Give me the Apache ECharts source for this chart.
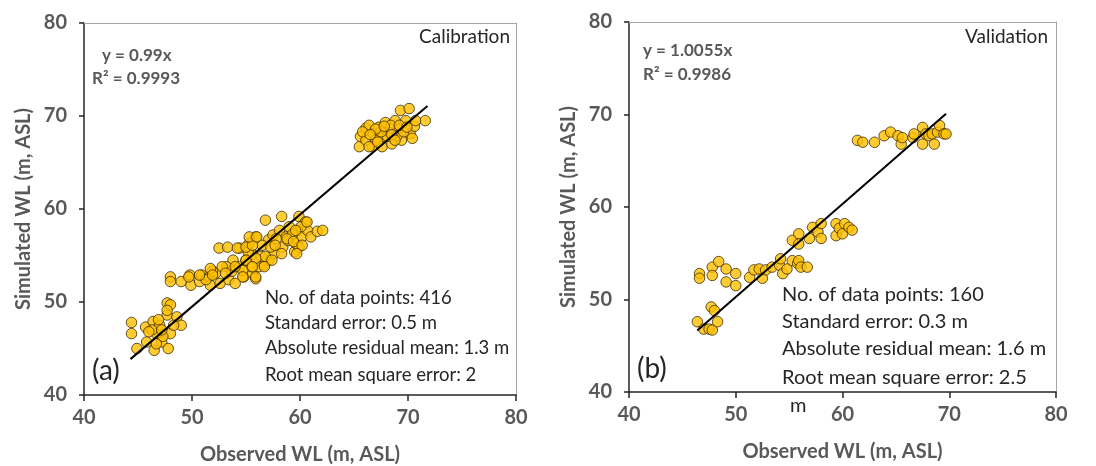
<!DOCTYPE html>
<html><head><meta charset="utf-8">
<script src="https://cdn.jsdelivr.net/npm/echarts@6/dist/echarts.min.js"></script>
<style>html,body{margin:0;padding:0;background:#fff}#c{width:1096px;height:466px}</style>
</head><body><div id="c"></div>
<script>
// Calibration observed / simulated
const calX = [44.4,44.4,44.9,45.7,45.8,46.4,46.5,46.7,47.0,47.2,47.7,47.7,48.0,47.8,48.0,48.6,49.0,47.3,46.9,46.3,48.3,47.7,46.0,47.2,46.7,
  48.0,48.0,49.0,49.8,49.9,50.7,50.9,51.6,51.7,52.2,52.5,53.3,52.6,53.4,53.7,54.0,54.4,54.8,55.0,55.6,55.6,55.9,56.2,56.7,56.8,57.1,57.1,57.5,57.6,58.1,58.3,58.4,58.7,59.0,59.5,59.6,59.8,59.9,60.2,60.5,60.7,61.0,61.6,62.1,
  54.4,55.2,55.3,55.9,56.5,56.4,55.5,53.8,53.2,51.9,51.3,54.7,57.3,57.8,58.9,59.3,59.9,60.1,
  54.2,55.0,55.6,55.3,56.0,58.8,59.6,59.4,60.2,59.7,60.65,56.8,55.9,55.0,54.0,52.8,51.7,50.7,49.7,51.9,53.1,54.7,55.9,56.7,57.4,58.3,55.6,57.7,
  65.5,65.6,66.1,66.4,66.7,66.8,67.3,67.6,67.6,67.9,68.2,68.5,68.8,69.1,69.3,69.4,69.8,70.1,70.2,70.4,70.6,71.6,66.1,67.0,68.4,69.0,65.8,68.1,69.6,70.7,67.5,66.4,
  67.0,67.8,68.5,69.2,69.9,66.5,67.2,68.8];
const calY = [47.8,46.6,45.0,47.3,45.7,47.9,44.8,46.6,47.5,45.7,48.6,49.9,49.7,45.0,46.6,48.4,47.5,46.3,48.1,47.0,47.5,49.1,46.8,47.0,45.5,
  52.7,52.2,52.2,52.9,51.8,52.2,52.9,52.7,51.8,53.1,55.8,55.9,52.0,52.4,53.3,52.0,53.8,52.7,54.5,55.1,53.1,52.5,53.8,54.0,58.8,56.7,54.5,57.2,55.2,57.7,59.2,55.9,57.0,58.1,55.4,56.3,57.7,59.2,57.0,58.6,57.7,57.0,57.6,57.7,
  55.8,55.4,56.3,57.0,56.1,54.9,53.8,54.5,53.8,53.3,52.4,53.4,55.9,56.8,56.6,57.3,55.9,58.1,
  55.8,55.9,56.1,57.0,57.0,56.8,57.7,56.5,56.1,55.2,58.6,54.9,54.7,54.5,53.8,53.8,53.6,52.9,52.7,52.9,53.1,52.7,52.7,53.8,54.5,55.2,53.8,56.1,
  66.7,67.8,68.7,69.0,66.7,68.1,68.8,67.6,66.7,69.3,68.3,67.0,69.5,68.6,70.6,67.4,69.5,70.8,68.1,67.6,68.9,69.5,67.4,67.4,69.0,67.9,68.3,67.8,68.3,69.5,68.3,66.7,
  68.6,68.9,68.0,69.0,68.8,68.0,67.2,67.4];
// Validation observed / simulated
const valX = [46.4,46.6,46.6,47.0,47.5,47.7,47.8,47.8,47.8,48.0,48.3,48.4,49.1,49.1,50.0,50.0,51.3,51.7,52.2,52.5,52.8,53.4,54.1,54.2,54.4,54.8,55.3,55.8,55.9,56.1,56.7,
  55.3,55.9,55.9,56.9,57.2,57.7,58.0,58.0,59.4,59.4,59.7,60.0,60.2,60.6,60.9,
  61.4,61.9,63.0,63.9,64.5,65.2,65.5,65.6,66.6,66.7,67.5,67.5,67.8,68.1,68.4,68.6,68.9,69.1,69.5,69.7];
const valY = [47.6,52.8,52.3,46.8,46.8,49.2,53.5,52.6,46.7,48.8,47.6,54.1,53.3,51.9,52.8,51.5,52.4,53.2,53.3,52.3,53.2,53.5,53.7,54.4,52.8,53.3,54.2,53.9,54.2,53.5,53.5,
  56.4,57.1,56.0,56.6,57.8,57.3,56.6,58.2,58.2,56.9,57.7,57.1,58.2,57.8,57.5,
  67.2,67.0,67.0,67.7,68.1,67.7,66.8,67.5,67.5,67.9,68.6,66.8,67.9,67.7,67.9,66.8,68.1,68.8,67.9,67.9];
// Trendlines (y = slope * x)
const calSlope = 0.99, calRange = [44.3, 71.8];
const valSlope = 1.0055, valRange = [46.4, 69.7];
const tickMin = 40, tickMax = 80, tickStep = 10;
const xTitle = 'Observed WL (m, ASL)', yTitle = 'Simulated WL (m, ASL)';

const zip = (a, b) => a.map((v, i) => [v, b[i]]);
const FONT = 'Lato';
const grey = '#595959';
const dark = '#262626';
function xAx(g) {
  return { type: 'value', gridIndex: g, min: tickMin, max: tickMax, interval: tickStep,
    name: xTitle, nameLocation: 'middle', nameGap: 50,
    nameTextStyle: { fontFamily: FONT, fontWeight: 'bold', fontSize: 20, color: grey },
    axisLine: { lineStyle: { color: dark, width: 1.5 } },
    axisTick: { show: true, inside: false, length: 6, lineStyle: { color: dark, width: 1.5 } },
    axisLabel: { fontFamily: FONT, fontWeight: 'bold', fontSize: 20, color: grey, margin: 13 },
    splitLine: { show: false } };
}
function yAx(g) {
  return { type: 'value', gridIndex: g, min: tickMin, max: tickMax, interval: tickStep,
    name: yTitle, nameLocation: 'middle', nameGap: 50,
    nameTextStyle: { fontFamily: FONT, fontWeight: 'bold', fontSize: 20, color: grey },
    axisLine: { lineStyle: { color: dark, width: 1.5 } },
    axisTick: { show: true, inside: false, length: 5, lineStyle: { color: dark, width: 1.5 } },
    axisLabel: { fontFamily: FONT, fontWeight: 'bold', fontSize: 20, color: grey, margin: 17 },
    splitLine: { show: false } };
}
function frameX(g) {
  return { type: 'value', gridIndex: g, position: 'top', min: tickMin, max: tickMax, interval: tickStep,
    axisLine: { show: true, onZero: false, lineStyle: { color: '#a6a6a6', width: 1 } },
    axisTick: { show: false }, axisLabel: { show: false }, splitLine: { show: false } };
}
function frameY(g) {
  return { type: 'value', gridIndex: g, position: 'right', min: tickMin, max: tickMax, interval: tickStep,
    axisLine: { show: true, onZero: false, lineStyle: { color: '#a6a6a6', width: 1 } },
    axisTick: { show: false }, axisLabel: { show: false }, splitLine: { show: false } };
}
const ptStyle = { color: '#FFC000', borderColor: '#3d2b00', borderWidth: 1 };
function txt(pos, s, size, opts) {
  return Object.assign({ type: 'text', z: 10 }, pos, {
    style: Object.assign({ text: s, fontFamily: FONT, fontSize: size, fill: dark }, opts || {}) });
}
const chart = echarts.init(document.getElementById('c'), null, { renderer: 'canvas' });
chart.setOption({
  animation: false,
  grid: [
    { left: 84, top: 23, width: 432, height: 372, containLabel: false, outerBoundsMode: 'none' },
    { left: 629, top: 22, width: 427, height: 370, containLabel: false, outerBoundsMode: 'none' }
  ],
  xAxis: [xAx(0), xAx(1), frameX(0), frameX(1)],
  yAxis: [yAx(0), yAx(1), frameY(0), frameY(1)],
  series: [
    { type: 'scatter', xAxisIndex: 0, yAxisIndex: 0, symbolSize: 10.5, data: zip(calX, calY), itemStyle: ptStyle },
    { type: 'line', xAxisIndex: 0, yAxisIndex: 0, symbol: 'none', data: calRange.map(x => [x, calSlope * x]),
      lineStyle: { color: '#000', width: 2 }, z: 5 },
    { type: 'scatter', xAxisIndex: 1, yAxisIndex: 1, symbolSize: 10.5, data: zip(valX, valY), itemStyle: ptStyle },
    { type: 'line', xAxisIndex: 1, yAxisIndex: 1, symbol: 'none', data: valRange.map(x => [x, valSlope * x]),
      lineStyle: { color: '#000', width: 2 }, z: 5 }
  ],
  graphic: [
    txt({ right: 586, top: 27 }, 'Calibration', 19),
    txt({ left: 102, top: 47 }, 'y = 0.99x', 17, { fontWeight: 'bold', fill: grey }),
    txt({ left: 92, top: 70 }, 'R² = 0.9993', 17, { fontWeight: 'bold', fill: grey }),
    txt({ left: 265, top: 289 }, 'No. of data points: 416', 18.5),
    txt({ left: 265, top: 314 }, 'Standard error: 0.5 m', 18.5),
    txt({ left: 265, top: 339 }, 'Absolute residual mean: 1.3 m', 18.5),
    txt({ left: 265, top: 366 }, 'Root mean square error: 2', 18.5),
    txt({ left: 92, top: 357 }, '(a)', 28),
    txt({ right: 48, top: 27 }, 'Validation', 19),
    txt({ left: 643, top: 42 }, 'y = 1.0055x', 17, { fontWeight: 'bold', fill: grey }),
    txt({ left: 643, top: 66 }, 'R² = 0.9986', 17, { fontWeight: 'bold', fill: grey }),
    txt({ left: 782, top: 285 }, 'No. of data points: 160', 20),
    txt({ left: 782, top: 312 }, 'Standard error: 0.3 m', 20),
    txt({ left: 782, top: 339 }, 'Absolute residual mean: 1.6 m', 20),
    txt({ left: 782, top: 368 }, 'Root mean square error: 2.5', 20),
    txt({ left: 790, top: 396 }, 'm', 20),
    txt({ left: 637, top: 355 }, '(b)', 28)
  ]
});
</script>
</body></html>
